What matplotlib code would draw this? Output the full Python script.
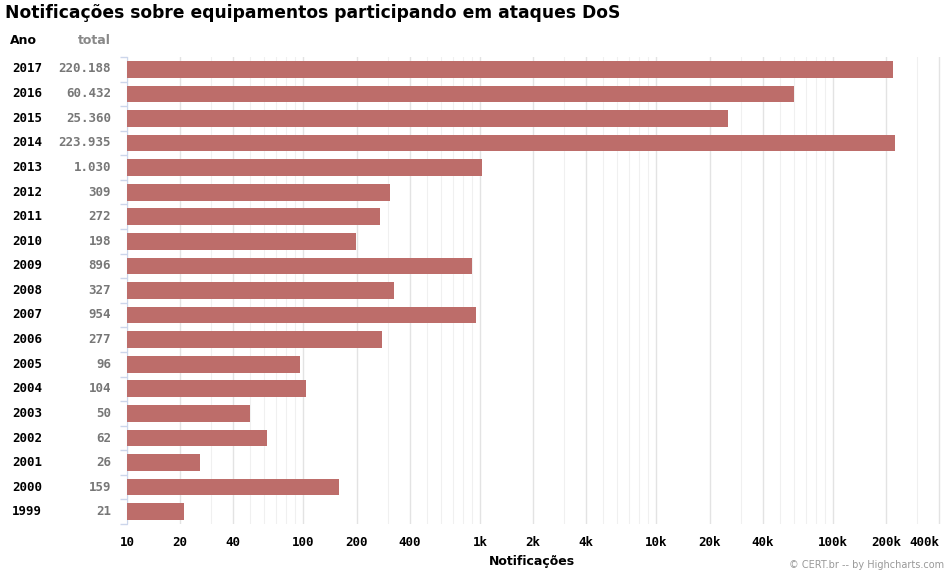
import numpy as np
import matplotlib.pyplot as plt
from matplotlib.ticker import FixedLocator, NullFormatter

years = ['2017', '2016', '2015', '2014', '2013', '2012', '2011', '2010', '2009', '2008',
         '2007', '2006', '2005', '2004', '2003', '2002', '2001', '2000', '1999']
totals = [220188, 60432, 25360, 223935, 1030, 309, 272, 198, 896, 327,
          954, 277, 96, 104, 50, 62, 26, 159, 21]
tick_vals = [10, 20, 40, 100, 200, 400, 1000, 2000, 4000, 10000, 20000, 40000,
             100000, 200000, 400000]
tick_labels = ['10', '20', '40', '100', '200', '400', '1k', '2k', '4k', '10k', '20k',
               '40k', '100k', '200k', '400k']

bar_color = '#bd6d6a'
axis_color = '#ccd6eb'
mono = 'DejaVu Sans Mono'
base = 10

fig = plt.figure(figsize=(9.47, 5.71), dpi=100)
ax = fig.add_axes([127 / 947, 1 - 524 / 571, (941 - 127) / 947, (524 - 57) / 571])

ypos = np.arange(len(years))
ax.barh(ypos, [t - base for t in totals], left=base, height=0.68, color=bar_color, zorder=3)
ax.set_xscale('log')
ax.set_xlim(base, 4.1e5)
ax.set_ylim(len(years) - 0.5, -0.5)

# grid lines
minor = [m * 10 ** e for e in range(1, 6) for m in (3, 5, 6, 7, 8, 9)]
for v in tick_vals:
    ax.axvline(v, color='#e3e3e3', lw=1, zorder=1)
for v in minor:
    if v < 4.1e5:
        ax.axvline(v, color='#f0f0f0', lw=0.8, zorder=1)

ax.xaxis.set_major_locator(FixedLocator(tick_vals))
ax.set_xticklabels(tick_labels, fontfamily=mono, fontweight='bold', fontsize=9)
ax.get_xticklabels()[-1].set_horizontalalignment('right')
ax.xaxis.set_minor_formatter(NullFormatter())
ax.tick_params(axis='x', which='both', length=0, pad=9)

ax.set_yticks(np.arange(-0.5, len(years), 1))
ax.set_yticklabels([])
ax.tick_params(axis='y', length=5, color=axis_color, width=1)

for s in ['top', 'right', 'bottom']:
    ax.spines[s].set_visible(False)
ax.spines['left'].set_color(axis_color)

# table-like y labels
for i, (y, t) in enumerate(zip(years, totals)):
    fig_y = 1 - (69 + i * 24.6) / 571
    fig.text(12 / 947, fig_y, y, ha='left', va='center', fontfamily=mono,
             fontweight='bold', fontsize=9, color='black')
    fig.text(111 / 947, fig_y, f'{t:,}'.replace(',', '.'), ha='right', va='center',
             fontfamily=mono, fontweight='bold', fontsize=9, color='#777777')

fig.text(10 / 947, 1 - 40 / 571, 'Ano', ha='left', va='center', fontweight='bold',
         fontsize=9, color='black')
fig.text(111 / 947, 1 - 40 / 571, 'total', ha='right', va='center', fontweight='bold',
         fontsize=9, color='#888888')

fig.text(5 / 947, 1 - 13 / 571, 'Notificações sobre equipamentos participando em ataques DoS',
         ha='left', va='center', fontweight='bold', fontsize=12.3)
fig.text(532 / 947, 1 - 562 / 571, 'Notificações', ha='center', va='center',
         fontweight='bold', fontsize=9)
fig.text(944 / 947, 1 - 565 / 571, '© CERT.br -- by Highcharts.com', ha='right',
         va='center', fontsize=7, color='#999999')

fig.savefig('out.png', dpi=100)
